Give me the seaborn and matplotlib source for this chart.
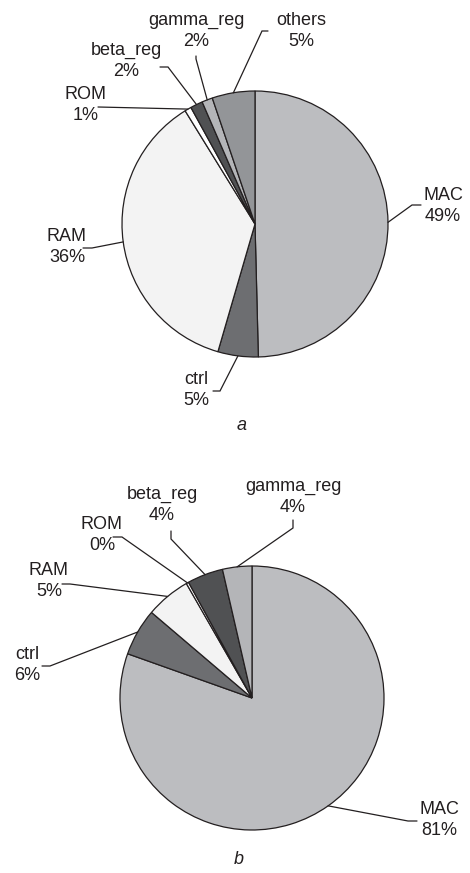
import numpy as np
import matplotlib
matplotlib.use("Agg")
import matplotlib.pyplot as plt
import seaborn as sns

sns.set_theme(style="white")
plt.rcParams['font.family'] = ['Liberation Sans', 'DejaVu Sans']

# datos (porciones, en %)
nombres_a = ['MAC', 'ctrl', 'RAM', 'ROM', 'beta_reg', 'gamma_reg', 'others']
valores_a = [49.6, 4.9, 36.7, 0.8, 1.5, 1.3, 5.2]
etiquetas_a = ['49%', '5%', '36%', '1%', '2%', '2%', '5%']

nombres_b = ['MAC', 'ctrl', 'RAM', 'ROM', 'beta_reg', 'gamma_reg']
valores_b = [80.6, 5.8, 5.5, 0.3, 4.4, 3.6]
etiquetas_b = ['81%', '6%', '5%', '0%', '4%', '4%']

colores = {'MAC': '#bcbdc0', 'ctrl': '#6d6e71', 'RAM': '#f3f3f3', 'ROM': '#ffffff',
           'beta_reg': '#505153', 'gamma_reg': '#b4b5b8', 'others': '#939598'}

W, H = 470, 873

fig = plt.figure(figsize=(W / 100, H / 100), dpi=100)
ax = fig.add_axes([0, 0, 1, 1])

# posiciones en pixeles (y desde arriba): codo, final de la linea, texto
layout_a = {
    'MAC': [(412, 205), (421, 205), (443, 206)],
    'ctrl': [(220, 391), (213, 391), (196, 390)],
    'RAM': [(92, 248), (83, 248), (67, 247)],
    'ROM': [(98, 107), (98, 107), (86, 105)],
    'beta_reg': [(168, 67), (160, 67), (126, 61)],
    'gamma_reg': [(196, 59), (196, 56), (196, 31)],
    'others': [(262, 31), (268, 31), (301, 31)],
}
layout_b = {
    'MAC': [(408, 821), (417, 821), (439, 820)],
    'ctrl': [(50, 666), (42, 666), (27, 665)],
    'RAM': [(70, 584), (62, 584), (49, 581)],
    'ROM': [(122, 537), (113, 537), (102, 535)],
    'beta_reg': [(171, 539), (171, 531), (162, 505)],
    'gamma_reg': [(293, 528), (293, 520), (293, 497)],
}


def dibujar_pie(nombres, valores, etiquetas, centro, radio, layout, letra, y_letra):
    cx, cy = centro[0], H - centro[1]
    wedges, _ = ax.pie(valores, colors=[colores[n] for n in nombres], startangle=90,
                       counterclock=False, center=(cx, cy), radius=radio,
                       wedgeprops=dict(edgecolor='#231f20', linewidth=0.9))
    for w, n, e in zip(wedges, nombres, etiquetas):
        ang = np.deg2rad((w.theta1 + w.theta2) / 2)
        x0, y0 = cx + radio * np.cos(ang), cy + radio * np.sin(ang)
        (ex, ey), (fx, fy), (tx, ty) = layout[n]
        ax.plot([x0, ex, fx], [y0, H - ey, H - fy], color='#231f20', lw=0.9,
                solid_joinstyle='miter')
        ax.text(tx, H - ty, f"{n}\n{e}", ha='center', va='center', fontsize=13,
                color='#231f20', linespacing=1.3)
    ax.text(centro[0] - 13, H - y_letra, letra, ha='center', va='center', fontsize=13,
            style='italic', color='#231f20')


dibujar_pie(nombres_a, valores_a, etiquetas_a, (255, 224), 133, layout_a, 'a', 425)
dibujar_pie(nombres_b, valores_b, etiquetas_b, (252, 698), 132, layout_b, 'b', 860)

ax.set_xlim(0, W)
ax.set_ylim(0, H)
ax.set_aspect('equal')
ax.axis('off')

plt.savefig('out.png', dpi=100)
